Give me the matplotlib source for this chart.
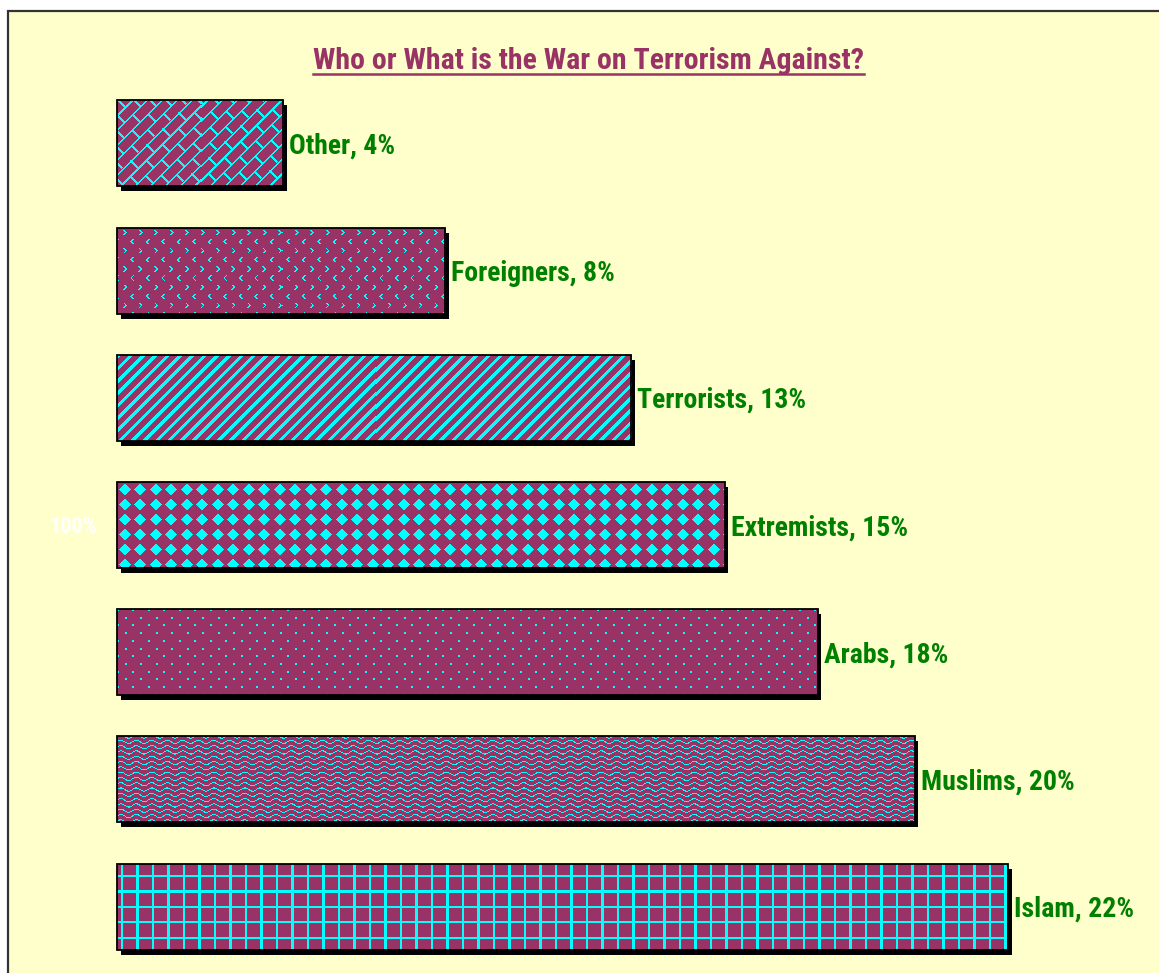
import numpy as np
import matplotlib
matplotlib.use('Agg')
import matplotlib.pyplot as plt
from matplotlib.patches import Rectangle
from matplotlib.lines import Line2D
import matplotlib.patheffects as pe

# ---------------- data ----------------
title = "Who or What is the War on Terrorism Against?"
categories = ['Other', 'Foreigners', 'Terrorists', 'Extremists', 'Arabs', 'Muslims', 'Islam']
values = [4.1, 8.1, 12.7, 15.0, 17.3, 19.7, 22.0]
value_labels = ['4%', '8%', '13%', '15%', '18%', '20%', '22%']
patterns = ['brick', 'chevron', 'stripe', 'diamond', 'dot', 'wave', 'grid']
stray_label = '100%'

# ---------------- style ----------------
W, H, DPI = 1159, 973, 100
BG = '#FFFFCC'
MAROON = np.array([0x99, 0x33, 0x66]) / 255
CYAN = np.array([0, 255, 255]) / 255
GREEN = '#008000'
TITLE_C = '#993366'
FONT = ['Liberation Sans Narrow', 'Roboto Condensed', 'Open Sans Condensed', 'Arial Narrow',
        'Liberation Sans', 'DejaVu Sans']

fig = plt.figure(figsize=(W / DPI, H / DPI), dpi=DPI, facecolor='white')
fig.patches.append(Rectangle((8 / W, -0.05), 1.2, 1 - 11 / H + 0.05, transform=fig.transFigure,
                             facecolor=BG, edgecolor='#333333', linewidth=1.6, zorder=-5))

ax = fig.add_axes([0, 0, 1, 1])
ax.set_axis_off()
ax.patch.set_alpha(0)
ax.set_zorder(1)

PX = 40.5          # pixels per percent
SP = 127.17        # pixels between bar centres
n = len(categories)
ypos = np.arange(n)[::-1]
xlim = (-117 / PX, (W - 117) / PX)
ylim = (-66.5 / SP, (n - 1) + (H - 829.5) / SP)
ax.set_xlim(*xlim)
ax.set_ylim(*ylim)
bh = 86 / SP

bars = ax.barh(ypos, values, height=bh, color=MAROON, edgecolor='none', zorder=1,
               path_effects=[pe.SimplePatchShadow(offset=(2.6, -3.6), shadow_rgbFace='black', alpha=1.0),
                             pe.Normal()])


def pattern_mask(name, X, Y):
    if name == 'grid':
        return ((X - 4) % 15.5 < 2.2) | ((Y - 11) % 15.4 < 2.2)
    if name == 'wave':
        yy = Y + 1.6 * np.sin(2 * np.pi * X / 15.5)
        return (yy % 5.3) < 1.1
    if name == 'dot':
        row = np.floor(Y / 7.7)
        xs = X - (row % 2) * 7.75
        return ((xs % 15.5) < 2) & ((Y % 7.7) < 2)
    if name == 'diamond':
        dx = (X % 15.5) - 7.75
        dy = (Y % 15.0) - 7.5
        return (np.abs(dx) + np.abs(dy)) < 6.0
    if name == 'stripe':
        return ((X + Y) % 12.3) < 4.6
    if name == 'brick':
        s = X + Y
        t = X - Y
        k = np.floor(s / 14.8)
        return ((s % 14.8) < 2.3) | (((t + k * 16.0) % 32.0) < 2.3)
    if name == 'chevron':
        P, Q = 15.5, 9.1
        row = np.floor(Y / Q)
        ly = (Y % Q) - Q / 2
        lx = ((X - (row % 2) * 7.75) % P) - P / 2
        sign = np.where(row % 2 == 0, 1.0, -1.0)
        return (np.abs(ly) <= 2.6) & (np.abs(lx - sign * (1.5 - np.abs(ly))) < 0.9)
    return np.zeros_like(X, dtype=bool)


for rect, pat in zip(bars, patterns):
    x0, y0, w, hh = rect.get_x(), rect.get_y(), rect.get_width(), rect.get_height()
    p = ax.transData.transform([[x0, y0], [x0 + w, y0 + hh]])
    wp = max(int(round(p[1, 0] - p[0, 0])), 1)
    hp = max(int(round(p[1, 1] - p[0, 1])), 1)
    X, Y = np.meshgrid(np.arange(wp) + 0.5, np.arange(hp) + 0.5)
    m = pattern_mask(pat, X, Y)
    img = np.empty((hp, wp, 3))
    img[:] = MAROON
    img[m] = CYAN
    im = ax.imshow(img, extent=(x0, x0 + w, y0, y0 + hh), origin='upper',
                   interpolation='nearest', aspect='auto', zorder=2)
    im.set_clip_path(rect)

ax.barh(ypos, values, height=bh, fill=False, edgecolor='black', linewidth=1.3, zorder=3)

for y, v, c, lab in zip(ypos, values, categories, value_labels):
    ax.annotate(f'{c}, {lab}', (v, y), xytext=(4.4, -7.3), textcoords='offset points',
                ha='left', va='baseline', color=GREEN, fontsize=20, fontweight='bold',
                family=FONT, zorder=4)

ext_y = ypos[categories.index('Extremists')]
ax.annotate(stray_label, (0, ext_y), xytext=(-14.4, -6.0), textcoords='offset points',
            ha='right', va='baseline', color='white', fontsize=16, fontweight='bold',
            family=FONT, zorder=4)

ax.set_xlim(*xlim)
ax.set_ylim(*ylim)

t = fig.text(588.5 / W, 1 - 69 / H, title, ha='center', va='baseline', color=TITLE_C,
             fontsize=21.5, fontweight='bold', family=FONT, zorder=5)
fig.canvas.draw()
bb = t.get_window_extent()
fig.lines.append(Line2D([bb.x0 / W, bb.x1 / W], [1 - 74 / H, 1 - 74 / H],
                        transform=fig.transFigure, color=TITLE_C, linewidth=1.8, zorder=5))

fig.savefig('out.png', dpi=DPI, facecolor='white')
